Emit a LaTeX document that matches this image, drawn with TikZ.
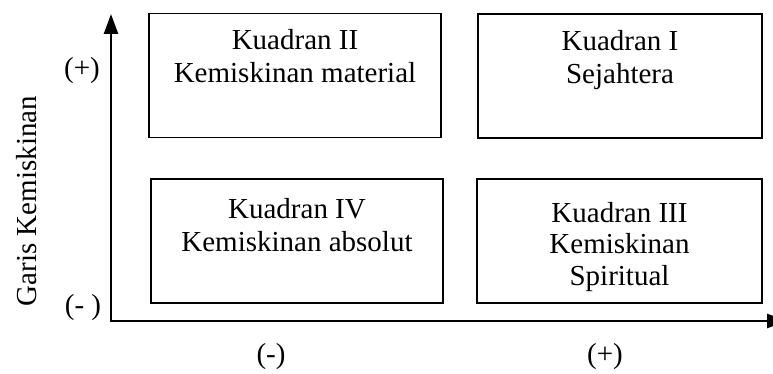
\documentclass[tikz,border=0pt]{standalone}
\usepackage{fontspec}
\setmainfont{Liberation Serif}
\usetikzlibrary{arrows.meta}
\begin{document}
\begin{tikzpicture}[x=1pt,y=-1pt,
  quad/.style={draw, line width=1.7pt, minimum height=124pt, inner sep=0pt},
  qtext/.style={anchor=base, align=center, inner sep=0pt,
    font=\fontsize{29}{33}\selectfont},
  lbl/.style={inner sep=0pt, font=\fontsize{29}{34}\selectfont},
  axis/.style={line width=2.6pt, line cap=rect,
    -{Triangle[length=20pt,width=14pt]}}]
\useasboundingbox (0,0) rectangle (773,374);
\clip (0,0) rectangle (773,374);
% boxes
\node[quad, minimum width=292pt] (q2) at (295,75.5) {};
\node[quad, minimum width=284pt] (q1) at (620,76) {};
\node[quad, minimum width=292pt] (q4) at (297,241) {};
\node[quad, minimum width=285pt] (q3) at (619.5,241) {};
% texts (anchor base = baseline of last line)
\node[qtext] (t2) at (295,83) {Kuadran II\\Kemiskinan material};
\node[qtext] (t1) at (620,83.5) {Kuadran I\\Sejahtera};
\node[qtext] (t4) at (297,251) {Kuadran IV\\Kemiskinan absolut};
\node[qtext, font=\fontsize{29}{31.5}\selectfont] (t3) at (619.5,285) {Kuadran III\\Kemiskinan\\Spiritual};
% axes
\coordinate (o) at (111,321);
\coordinate (ytip) at (111,14);
\coordinate (xtip) at (787,321);
\draw[axis] (o) -- (ytip);
\draw[axis] (o) -- (xtip);
% labels
\node[lbl] (yplus) at (82,71) {(+)};
\node[lbl] (yminus) at (83,308) {(- )};
\node[lbl] (xminus) at (271,357) {(-)};
\node[lbl] (xplus) at (605,357) {(+)};
\node[lbl, rotate=90] (ylab) at (27,201) {Garis Kemiskinan};
\end{tikzpicture}
\end{document}
